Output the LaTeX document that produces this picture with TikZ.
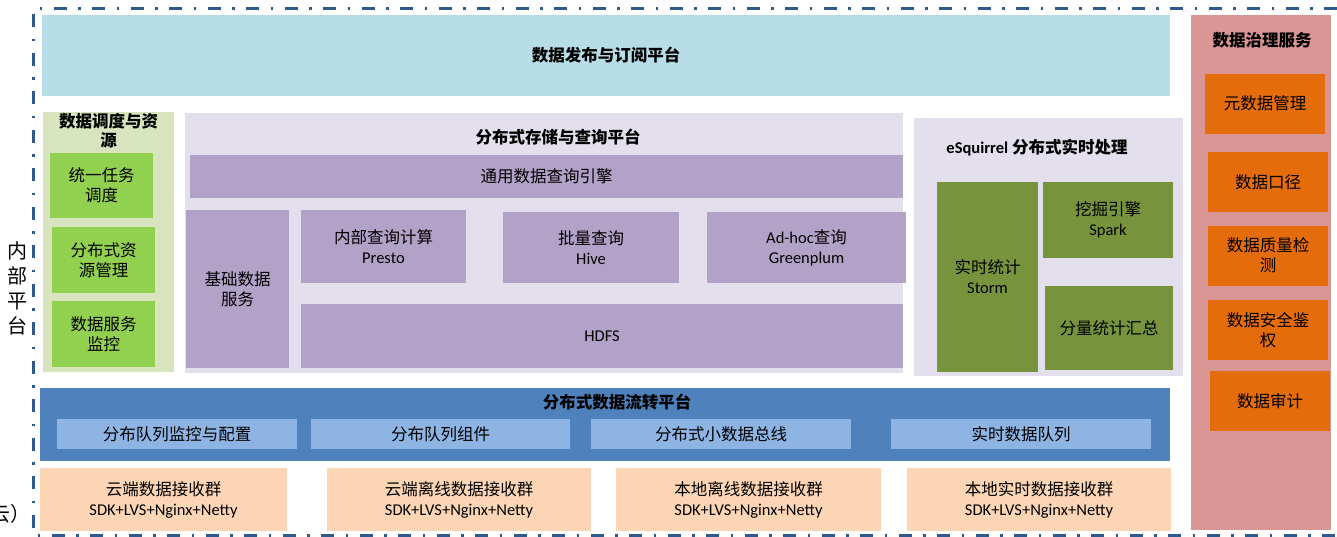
\documentclass[tikz,border=0pt]{standalone}
\usepackage{fontspec}
\setmainfont{Noto Sans CJK SC}
\newfontfamily\lat{Carlito}
\usepackage{tikz}
\usetikzlibrary{positioning}

\definecolor{pubcyan}{HTML}{B7DDE8}
\definecolor{govpink}{HTML}{D99694}
\definecolor{govorange}{HTML}{E46C0A}
\definecolor{schedpale}{HTML}{D7E4BD}
\definecolor{schedgreen}{HTML}{92D050}
\definecolor{storelav}{HTML}{E4DFEC}
\definecolor{storepurple}{HTML}{B2A2C7}
\definecolor{rtolive}{HTML}{77933C}
\definecolor{flowblue}{HTML}{4F81BD}
\definecolor{flowlight}{HTML}{8DB4E2}
\definecolor{recvpeach}{HTML}{FCD5B5}
\definecolor{borderblue}{HTML}{2E5A8E}

\begin{document}
\begin{tikzpicture}[
		x=1pt, y=-1pt,
		font=\fontsize{16.5}{20}\selectfont,
		block/.style={rectangle, inner sep=0pt, outer sep=0pt, align=center},
		pubnode/.style={block, fill=pubcyan},
		govnode/.style={block, fill=govpink},
		govitem/.style={block, fill=govorange, minimum width=120, minimum height=60},
		schednode/.style={block, fill=schedpale},
		scheditem/.style={block, fill=schedgreen, minimum width=103, minimum height=66},
		storenode/.style={block, fill=storelav},
		storeitem/.style={block, fill=storepurple},
		rtnode/.style={block, fill=storelav},
		rtitem/.style={block, fill=rtolive},
		flownode/.style={block, fill=flowblue},
		flowitem/.style={block, fill=flowlight, minimum height=30},
		recvitem/.style={block, fill=recvpeach, minimum height=63},
		title/.style={inner sep=0pt, align=center, font=\fontsize{16.5}{19}\selectfont\bfseries},
		sidetext/.style={inner sep=0pt, align=center, font=\fontsize{20}{25}\selectfont},
		frame/.style={draw=borderblue, line width=3pt, dash pattern=on 13pt off 11.5pt on 2.5pt off 11.5pt}
		]
		\useasboundingbox (0,0) rectangle (1337,536);
		
		% Outer frame
		\draw[frame] (1337,8.5) -- (33.5,8.5) -- (33.5,535) -- (1337,535);
		
		% Side labels
		\node[sidetext] (Inner) at (17,288) {内\\部\\平\\台};
		\node[sidetext, anchor=east] (Cloud) at (31,514) {云）};
		
		% Publish
		\node[pubnode, minimum width=1128, minimum height=81] (Publish) at (606,55.5) {};
		\node[title] (PublishTitle) at (Publish.center) {数据发布与订阅平台};
		
		% Governance
		\node[govnode, minimum width=140, minimum height=515] (Gov) at (1261,272.5) {};
		\node[title] (GovTitle) at (1262,40) {数据治理服务};
		\node[govitem] (Meta) at (1265,103.5) {元数据管理};
		\node[govitem] (Caliber) at (1268,182) {数据口径};
		\node[govitem] (Quality) at (1268,255.5) {数据质量检\\测};
		\node[govitem] (Security) at (1268,330) {数据安全鉴\\权};
		\node[govitem] (Audit) at (1270,401) {数据审计};
		
		% Scheduling
		\node[schednode, minimum width=131, minimum height=260] (Sched) at (108.5,242) {};
		\node[title] (SchedTitle) at (108.5,130.5) {数据调度与资\\源};
		\node[scheditem, minimum height=65] (Task) at (101.5,185.5) {统一任务\\调度};
		\node[scheditem] (Resource) at (103.5,260) {分布式资\\源管理};
		\node[scheditem] (Monitor) at (103.5,334) {数据服务\\监控};
		
		% Storage and query
		\node[storenode, minimum width=718, minimum height=260] (Store) at (544,243) {};
		\node[title] (StoreTitle) at (558,137) {分布式存储与查询平台};
		\node[storeitem, minimum width=713, minimum height=43] (Engine) at (546.5,176.5) {通用数据查询引擎};
		\node[storeitem, minimum width=103, minimum height=158] (Base) at (237.5,289) {基础数据\\服务};
		\node[storeitem, minimum width=165, minimum height=73] (Presto) at (383.5,246.5) {内部查询计算\\{\lat Presto}};
		\node[storeitem, minimum width=176, minimum height=71] (Hive) at (591,247.5) {批量查询\\{\lat Hive}};
		\node[storeitem, minimum width=199, minimum height=71] (Adhoc) at (806.5,247.5) {{\lat Ad-hoc}查询\\{\lat Greenplum}};
		\node[storeitem, minimum width=602, minimum height=64] (HDFS) at (602,336) {\lat HDFS};
		
		% Real time
		\node[rtnode, minimum width=269, minimum height=258] (Realtime) at (1048.5,247) {};
		\node[title] (RealtimeTitle) at (1037,148) {{\lat eSquirrel} 分布式实时处理};
		\node[rtitem, minimum width=101, minimum height=190] (Storm) at (987.5,277) {实时统计\\{\lat Storm}};
		\node[rtitem, minimum width=130, minimum height=76] (Spark) at (1108,220) {挖掘引擎\\{\lat Spark}};
		\node[rtitem, minimum width=128, minimum height=84] (Aggregate) at (1109,328) {分量统计汇总};
		
		% Data flow
		\node[flownode, minimum width=1130, minimum height=73] (Flow) at (605,424.5) {};
		\node[title] (FlowTitle) at (617,402) {分布式数据流转平台};
		\node[flowitem, minimum width=240] (QueueMon) at (177,434) {分布队列监控与配置};
		\node[flowitem, minimum width=259] (QueueComp) at (440.5,434) {分布队列组件};
		\node[flowitem, minimum width=260] (SmallBus) at (721,434) {分布式小数据总线};
		\node[flowitem, minimum width=260] (RtQueue) at (1021,434) {实时数据队列};
		
		% Receivers
		\node[recvitem, minimum width=247] (Recv1) at (163.5,499.5) {云端数据接收群\\{\lat SDK+LVS+Nginx+Netty}};
		\node[recvitem, minimum width=264] (Recv2) at (459,499.5) {云端离线数据接收群\\{\lat SDK+LVS+Nginx+Netty}};
		\node[recvitem, minimum width=265] (Recv3) at (748.5,499.5) {本地离线数据接收群\\{\lat SDK+LVS+Nginx+Netty}};
		\node[recvitem, minimum width=264] (Recv4) at (1039,499.5) {本地实时数据接收群\\{\lat SDK+LVS+Nginx+Netty}};
	\end{tikzpicture}
\end{document}
